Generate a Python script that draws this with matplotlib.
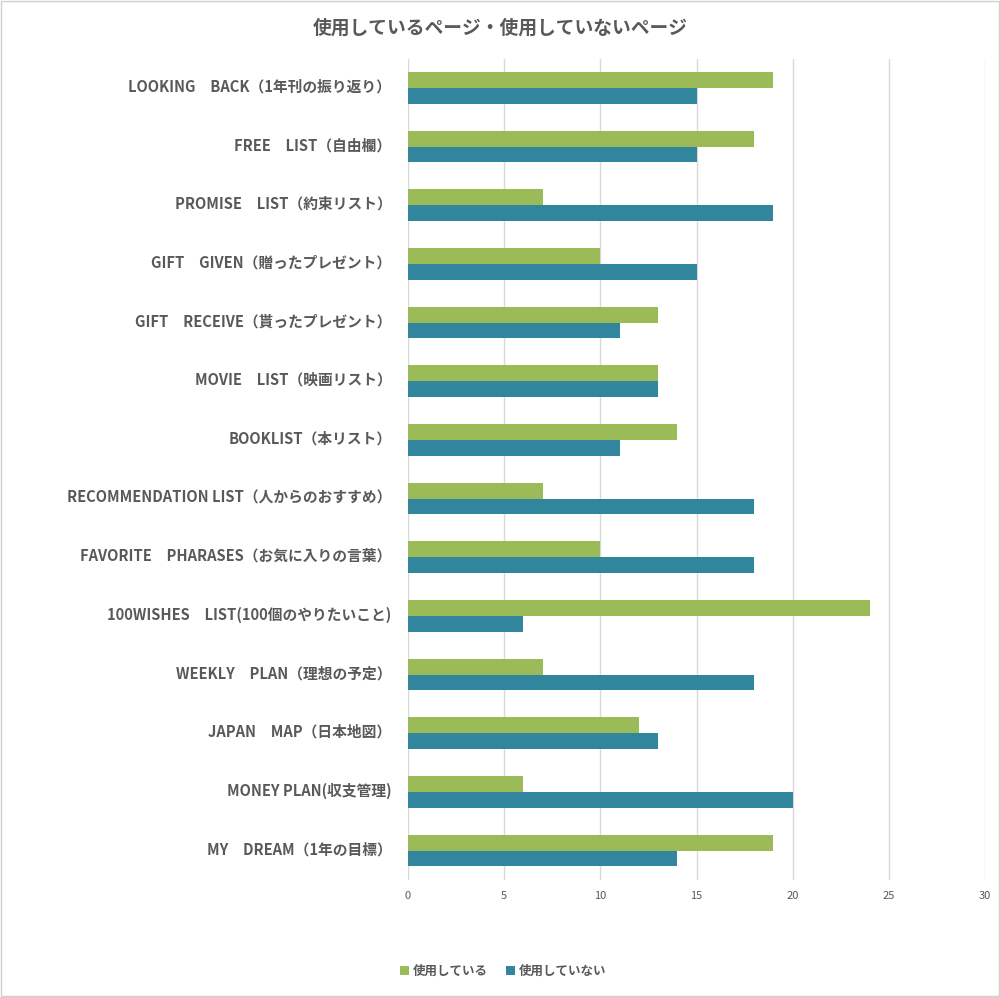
import numpy as np
import matplotlib
matplotlib.use("Agg")
import matplotlib.pyplot as plt
from matplotlib.patches import Rectangle

plt.rcParams['font.family'] = ['Noto Sans CJK JP', 'DejaVu Sans']

labels = [
    "LOOKING　BACK（1年刊の振り返り）",
    "FREE　LIST（自由欄）",
    "PROMISE　LIST（約束リスト）",
    "GIFT　GIVEN（贈ったプレゼント）",
    "GIFT　RECEIVE（貰ったプレゼント）",
    "MOVIE　LIST（映画リスト）",
    "BOOKLIST（本リスト）",
    "RECOMMENDATION LIST（人からのおすすめ）",
    "FAVORITE　PHARASES（お気に入りの言葉）",
    "100WISHES　LIST(100個のやりたいこと)",
    "WEEKLY　PLAN（理想の予定）",
    "JAPAN　MAP（日本地図）",
    "MONEY PLAN(収支管理)",
    "MY　DREAM（1年の目標）",
]
used = [19, 18, 7, 10, 13, 13, 14, 7, 10, 24, 7, 12, 6, 19]
unused = [15, 15, 19, 15, 11, 13, 11, 18, 18, 6, 18, 13, 20, 14]
series_names = ["使用している", "使用していない"]
xticks = [0, 5, 10, 15, 20, 25, 30]

green = "#9BBB59"
blue = "#31859C"
textc = "#595959"
gridc = "#D9D9D9"

fig = plt.figure(figsize=(10, 9.97), dpi=100)
fig.patches.append(Rectangle((0.001, 0.001), 0.998, 0.998, transform=fig.transFigure,
                             fill=False, edgecolor="#D0D0D0", linewidth=1))
ax = fig.add_axes([0.408, 0.1174, 0.577, 0.8238])

y = np.arange(len(labels))
h = 0.27
ax.barh(y - h / 2, used, height=h, color=green, label=series_names[0], zorder=3)
ax.barh(y + h / 2, unused, height=h, color=blue, label=series_names[1], zorder=3)

ax.set_ylim(len(labels) - 0.5, -0.5)
ax.set_xlim(0, 30)
ax.set_xticks(xticks)
ax.set_yticks(y - 0.05)
ax.set_yticklabels(labels, fontsize=10.6, fontweight="bold", color=textc)
ax.tick_params(axis="y", length=0, pad=12)
ax.tick_params(axis="x", length=0, pad=8, labelsize=8, labelcolor=textc)
ax.grid(axis="x", color=gridc, linewidth=1, zorder=0)
for s in ax.spines.values():
    s.set_visible(False)

fig.text(0.5, 0.972, "使用しているページ・使用していないページ", ha="center", va="center",
         fontsize=13.5, fontweight="bold", color=textc)

fig.legend(loc="center", bbox_to_anchor=(0.503, 0.026), ncol=2, frameon=False,
           handlelength=0.7, handleheight=0.7, handletextpad=0.3,
           columnspacing=1.5, labelcolor=textc,
           prop={"weight": "bold", "size": 9})

fig.savefig("out.png", dpi=100)
